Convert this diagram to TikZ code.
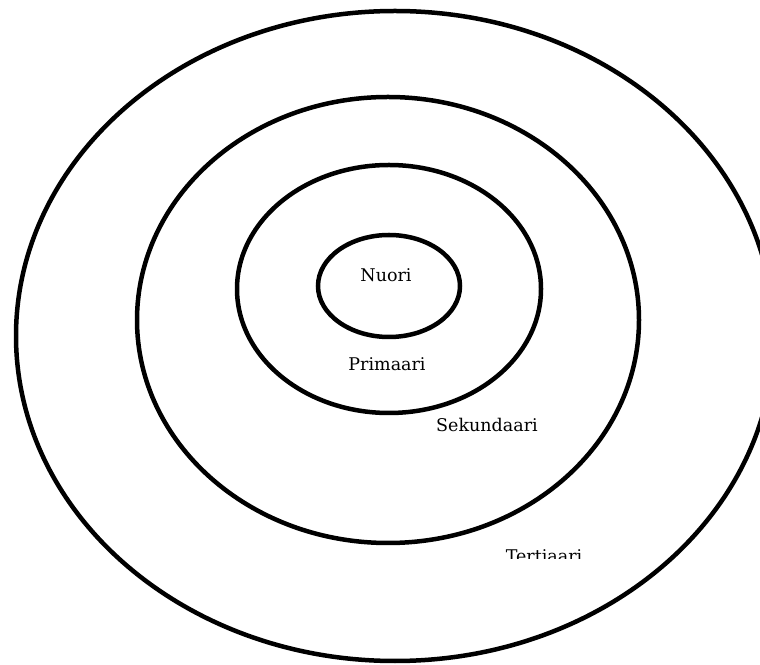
\documentclass[tikz,border=0pt]{standalone}
\usepackage{fontspec}
\setmainfont{DejaVu Serif}
\begin{document}
\begin{tikzpicture}[x=1pt,y=1pt,
  ring/.style={draw=black,line width=4.5pt},
  lbl/.style={inner sep=0pt,anchor=base,font=\fontsize{17.5}{20}\selectfont}]
\useasboundingbox (0,0) rectangle (760,664);
\begin{scope}
\clip (0,0) rectangle (760,664);
\draw[ring] (395,328) ellipse [x radius=379, y radius=325];
\end{scope}
\draw[ring] (388,344) ellipse [x radius=251, y radius=223];
\draw[ring] (389,375) ellipse [x radius=152, y radius=124];
\draw[ring] (389,378) ellipse [x radius=71, y radius=51];
\node[lbl] (nuori) at (386,382) {Nuori};
\node[lbl] (primaari) at (387,293) {Primaari};
\node[lbl] (sekundaari) at (487,232) {Sekundaari};
\begin{scope}
\clip (0,105) rectangle (760,664);
\node[lbl] (tertiaari) at (544,101) {Tertiaari};
\end{scope}
\end{tikzpicture}
\end{document}
